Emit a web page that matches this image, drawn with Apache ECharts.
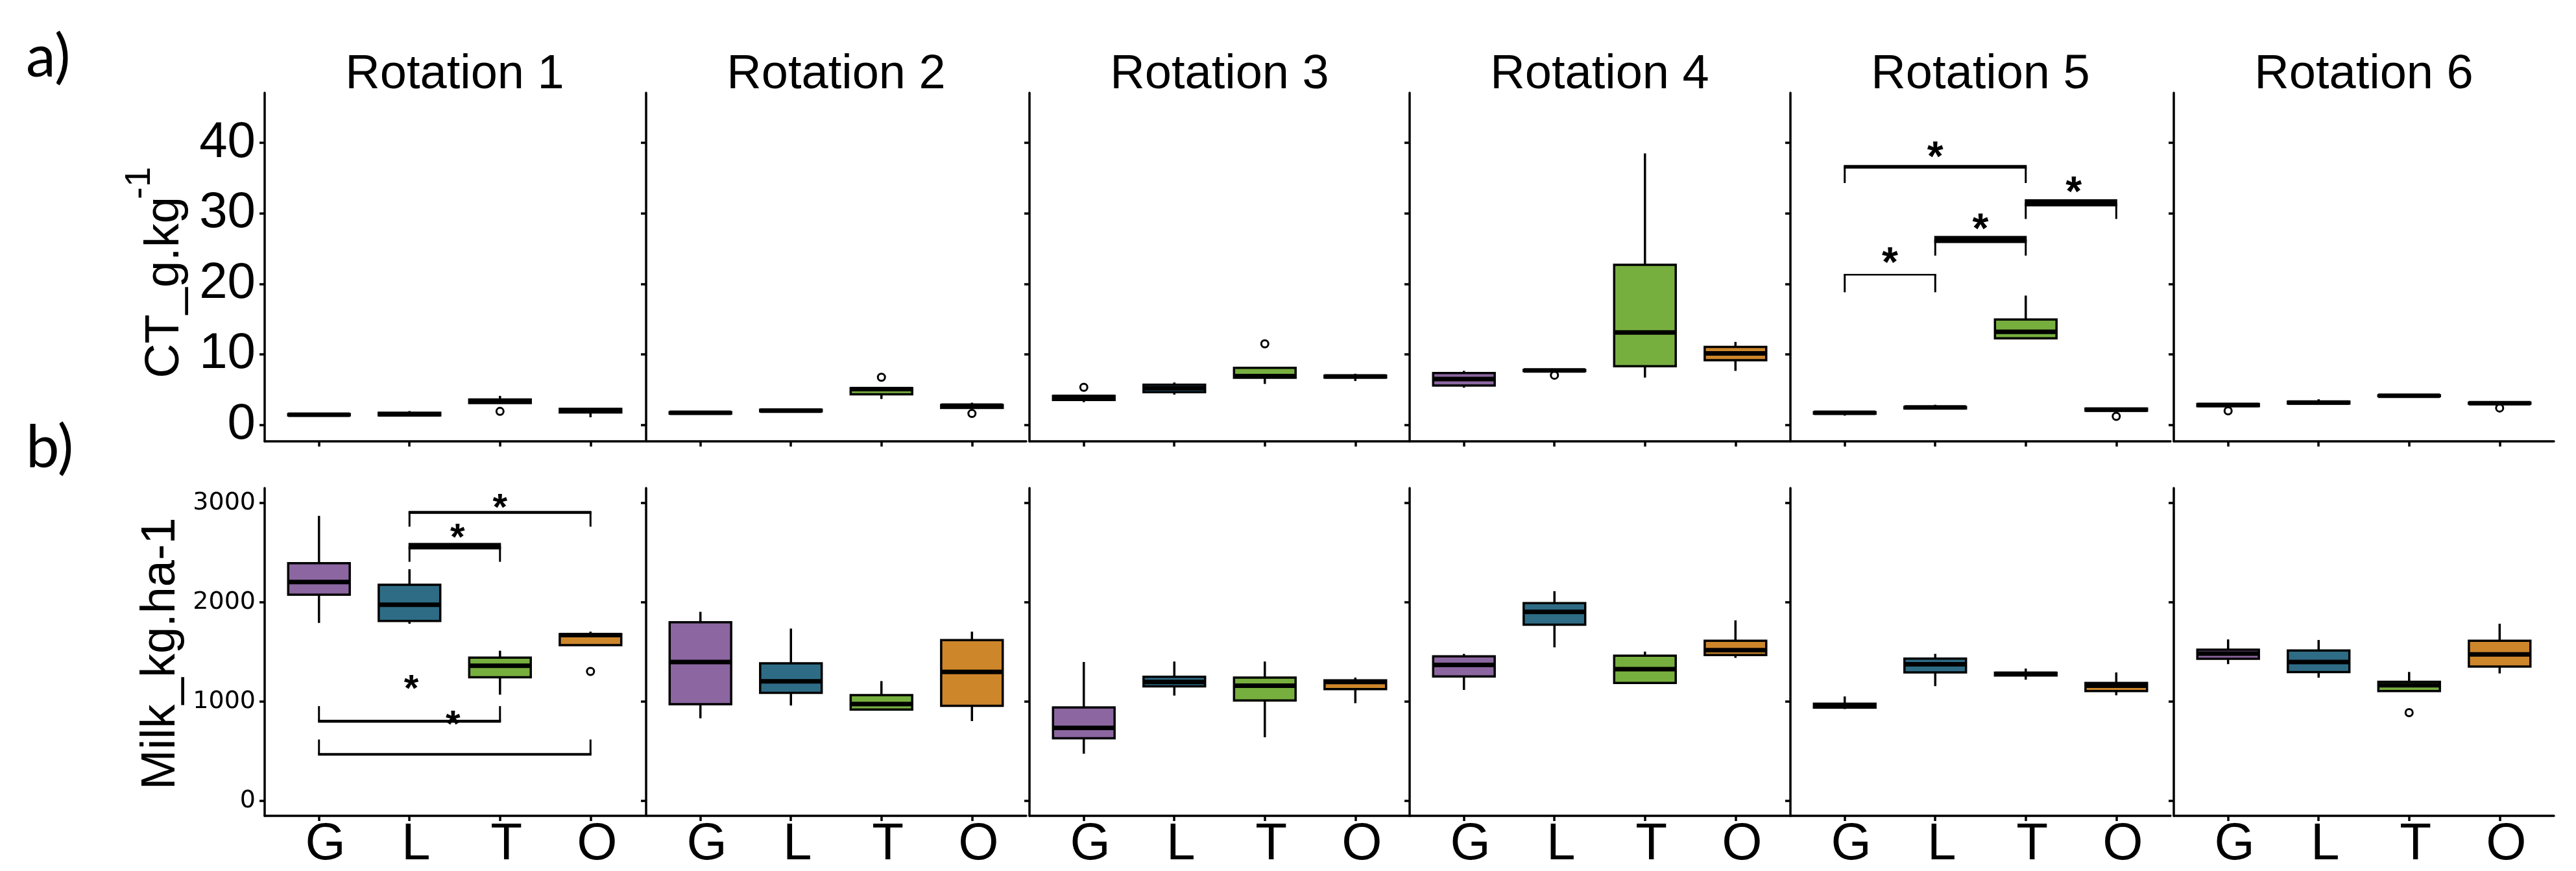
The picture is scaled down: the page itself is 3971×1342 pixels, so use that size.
<!DOCTYPE html>
<html>
<head>
<meta charset="utf-8">
<script src="https://cdn.jsdelivr.net/npm/echarts@6/dist/echarts.min.js"></script>
<style>html,body{margin:0;padding:0;background:#fff}#c{width:3971px;height:1342px}</style>
</head>
<body>
<div id="c"></div>
<script>
// ---------------- DATA ----------------
const rotations = ['Rotation 1', 'Rotation 2', 'Rotation 3', 'Rotation 4', 'Rotation 5', 'Rotation 6'];
const treatments = ['G', 'L', 'T', 'O'];
const ctTicks = [0, 10, 20, 30, 40];
const milkTicks = [0, 1000, 2000, 3000];

// CT (g.kg-1): [min, Q1, median, Q3, max] for G, L, T, O
const ctRotation1 = [[1.30, 1.33, 1.42, 1.51, 1.55], [1.30, 1.34, 1.50, 1.71, 1.95], [3.00, 3.08, 3.40, 3.60, 4.10], [1.07, 1.75, 2.05, 2.25, 2.30]];
const ctRotation2 = [[1.55, 1.58, 1.70, 1.79, 1.80], [1.90, 1.92, 2.00, 2.13, 2.15], [3.66, 4.33, 5.06, 5.20, 5.20], [2.40, 2.40, 2.72, 2.81, 3.13]];
const ctRotation3 = [[3.21, 3.52, 3.95, 4.10, 4.10], [4.28, 4.62, 5.18, 5.69, 6.00], [5.80, 6.68, 6.90, 8.08, 8.08], [6.21, 6.69, 6.85, 6.98, 7.24]];
const ctRotation4 = [[5.27, 5.57, 6.50, 7.34, 7.65], [7.60, 7.62, 7.70, 7.79, 7.85], [6.70, 8.30, 13.10, 22.70, 38.50], [7.65, 9.15, 10.12, 11.04, 11.76]];
const ctRotation5 = [[1.30, 1.58, 1.70, 1.79, 1.80], [2.33, 2.33, 2.45, 2.53, 2.84], [12.27, 12.27, 13.20, 14.95, 18.33], [1.99, 1.99, 2.15, 2.29, 2.29]];
const ctRotation6 = [[2.65, 2.65, 2.80, 2.95, 2.95], [3.02, 3.02, 3.15, 3.28, 3.62], [4.05, 4.05, 4.12, 4.18, 4.18], [2.98, 2.98, 3.07, 3.15, 3.15]];

// Milk (kg.ha-1): [min, Q1, median, Q3, max] for G, L, T, O
const milkRotation1 = [[1793, 2078, 2205, 2395, 2872], [1785, 1812, 1976, 2177, 2334], [1070, 1246, 1362, 1443, 1513], [1569, 1569, 1670, 1680, 1705]];
const milkRotation2 = [[832, 974, 1399, 1800, 1905], [961, 1088, 1204, 1386, 1736], [920, 920, 975, 1065, 1207], [804, 957, 1299, 1620, 1705]];
const milkRotation3 = [[475, 631, 735, 942, 1399], [1061, 1154, 1198, 1251, 1404], [641, 1011, 1161, 1242, 1404], [984, 1126, 1198, 1214, 1242]];
const milkRotation4 = [[1118, 1254, 1370, 1457, 1481], [1547, 1775, 1905, 1992, 2113], [1189, 1189, 1327, 1463, 1504], [1441, 1469, 1518, 1614, 1819]];
const milkRotation5 = [[925, 940, 964, 979, 1052], [1156, 1294, 1376, 1434, 1481], [1221, 1263, 1279, 1291, 1333], [1064, 1106, 1161, 1188, 1294]];
const milkRotation6 = [[1378, 1432, 1484, 1523, 1627], [1241, 1297, 1399, 1515, 1621], [1106, 1106, 1165, 1200, 1299], [1284, 1354, 1476, 1614, 1785]];

// outliers: [rotationIndex, treatmentIndex, value]
const ctOutliers = [[0, 2, 1.9], [1, 2, 6.74], [1, 3, 1.6], [2, 0, 5.31], [2, 2, 11.48], [3, 1, 7.03], [4, 3, 1.2], [5, 0, 1.98], [5, 3, 2.38]];
const milkOutliers = [[0, 3, 1304], [5, 2, 889]];

// significance brackets: [rotationIndex, fromTreatment, toTreatment, barValue, legEndValue]
const ctBrackets = [[4, 0, 2, 36.6, 34.3], [4, 0, 1, 21.3, 18.8], [4, 1, 2, 26.3, 24.0], [4, 2, 3, 31.5, 29.2]];
const milkBrackets = [[0, 1, 3, 2906, 2763], [0, 1, 2, 2567, 2409], [0, 0, 2, 803, 955], [0, 0, 3, 469, 618]];
// significance stars: [rotationIndex, treatmentPosition, value]
const ctStars = [[4, 1.0, 39.0], [4, 0.5, 24.0], [4, 1.5, 28.8], [4, 2.53, 34.1]];
const milkStars = [[0, 2.0, 3025], [0, 1.53, 2723], [0, 1.48, 840], [0, 1.02, 1198]];

const ctBoxes = [ctRotation1, ctRotation2, ctRotation3, ctRotation4, ctRotation5, ctRotation6];
const milkBoxes = [milkRotation1, milkRotation2, milkRotation3, milkRotation4, milkRotation5, milkRotation6];

// ---------------- STYLE / LAYOUT ----------------
const FILL = ['#8C66A0', '#2E6C86', '#77AF3F', '#CE862B'];
const ctBracketWidths = [5.5, 2.5, 11, 11];
const milkBracketWidths = [4.5, 10, 4.5, 4];
const SANS = '"Liberation Sans", Arial, sans-serif';
const PANEL_LEFT = [408, 996, 1587, 2173, 2760, 3351];
const PANEL_W = 586;
const ROWS = [
  { top: 143, height: 537, min: -2.35, max: 47.1, ticks: ctTicks, boxes: ctBoxes, outliers: ctOutliers, brackets: ctBrackets, widths: ctBracketWidths, stars: ctStars, labelFont: { fontSize: 78, fontFamily: SANS }, starSize: 64 },
  { top: 752, height: 510, min: -151, max: 3152, ticks: milkTicks, boxes: milkBoxes, outliers: milkOutliers, brackets: milkBrackets, widths: milkBracketWidths, stars: milkStars, labelFont: { fontSize: 38, fontFamily: '"DejaVu Sans", sans-serif' }, starSize: 58 }
];
const BOX_W = 0.68;
const LINE = '#000';

function renderBox(params, api) {
  const x = api.value(0);
  const lo = api.coord([x, api.value(1)]);
  const q1 = api.coord([x, api.value(2)]);
  const md = api.coord([x, api.value(3)]);
  const q3 = api.coord([x, api.value(4)]);
  const hi = api.coord([x, api.value(5)]);
  const half = api.size([BOX_W, 0])[0] / 2;
  const fill = FILL[api.value(6)];
  return {
    type: 'group',
    children: [
      { type: 'line', shape: { x1: lo[0], y1: lo[1], x2: q1[0], y2: q1[1] }, style: { stroke: LINE, lineWidth: 3.5 } },
      { type: 'line', shape: { x1: q3[0], y1: q3[1], x2: hi[0], y2: hi[1] }, style: { stroke: LINE, lineWidth: 3.5 } },
      { type: 'rect', shape: { x: q1[0] - half, y: q3[1], width: 2 * half, height: Math.max(q1[1] - q3[1], 0.5) }, style: { fill: fill, stroke: LINE, lineWidth: 3.5 } },
      { type: 'line', shape: { x1: md[0] - half, y1: md[1], x2: md[0] + half, y2: md[1] }, style: { stroke: LINE, lineWidth: 7 } }
    ]
  };
}

function makeBracketRenderer(widths) {
  return function (params, api) {
    const bar = api.value(2), leg = api.value(3);
    const a = api.coord([api.value(0), leg]);
    const b = api.coord([api.value(0), bar]);
    const c = api.coord([api.value(1), bar]);
    const d = api.coord([api.value(1), leg]);
    const w = widths[api.value(4)];
    return {
      type: 'group',
      children: [
        { type: 'line', shape: { x1: a[0], y1: a[1], x2: b[0], y2: b[1] }, style: { stroke: LINE, lineWidth: 3 } },
        { type: 'line', shape: { x1: d[0], y1: d[1], x2: c[0], y2: c[1] }, style: { stroke: LINE, lineWidth: 3 } },
        { type: 'line', shape: { x1: b[0] - 1.5, y1: b[1], x2: c[0] + 1.5, y2: c[1] }, style: { stroke: LINE, lineWidth: w } }
      ]
    };
  };
}

function makeStarRenderer(size) {
  return function (params, api) {
    const p = api.coord([api.value(0), api.value(1)]);
    return {
      type: 'text', x: p[0], y: p[1] + 0.23 * size,
      style: { text: '*', fill: LINE, fontSize: size, fontWeight: 'bold', fontFamily: SANS, align: 'center', verticalAlign: 'middle' }
    };
  };
}

const grid = [], xAxis = [], yAxis = [], series = [];
ROWS.forEach((row, r) => {
  for (let p = 0; p < 6; p++) {
    const g = r * 6 + p;
    grid.push({ left: PANEL_LEFT[p], top: row.top, width: PANEL_W, height: row.height, containLabel: false });
    xAxis.push({
      gridIndex: g, type: 'value', min: 0.4, max: 4.6, splitLine: { show: false },
      axisLine: { show: true, onZero: false, lineStyle: { color: LINE, width: 3.5 } },
      axisTick: { show: true, customValues: [1, 2, 3, 4], length: 8, lineStyle: { color: LINE, width: 3.5 } },
      axisLabel: { show: r === 1, customValues: [1, 2, 3, 4], formatter: v => treatments[Math.round(v) - 1], fontSize: 80, fontFamily: SANS, color: LINE, margin: 5, padding: [0, 0, 0, 20] }
    });
    yAxis.push({
      gridIndex: g, type: 'value', min: row.min, max: row.max, splitLine: { show: false },
      axisLine: { show: true, onZero: false, lineStyle: { color: LINE, width: 3.5 } },
      axisTick: { show: true, customValues: row.ticks, length: 8, lineStyle: { color: LINE, width: 3.5 } },
      axisLabel: Object.assign({ show: p === 0, customValues: row.ticks, formatter: v => String(Math.round(v)), color: LINE, margin: 14 }, row.labelFont)
    });
    series.push({
      type: 'custom', xAxisIndex: g, yAxisIndex: g, z: 2,
      data: row.boxes[p].map((b, i) => [i + 1, b[0], b[1], b[2], b[3], b[4], i]),
      encode: { x: 0, y: [1, 2, 3, 4, 5] },
      renderItem: renderBox
    });
    const outs = row.outliers.filter(o => o[0] === p).map(o => [o[1] + 1, o[2]]);
    if (outs.length) {
      series.push({
        type: 'scatter', xAxisIndex: g, yAxisIndex: g, z: 3, symbol: 'circle', symbolSize: 11,
        itemStyle: { color: '#fff', borderColor: LINE, borderWidth: 3, opacity: 1 },
        data: outs
      });
    }
    const brs = row.brackets.map((bk, i) => [bk[1] + 1, bk[2] + 1, bk[3], bk[4], i, bk[0]]).filter(bk => bk[5] === p);
    if (brs.length) {
      series.push({
        type: 'custom', xAxisIndex: g, yAxisIndex: g, z: 4,
        data: brs, encode: { x: [0, 1], y: [2, 3] },
        renderItem: makeBracketRenderer(row.widths)
      });
    }
    const sts = row.stars.filter(s => s[0] === p).map(s => [s[1] + 1, s[2]]);
    if (sts.length) {
      series.push({
        type: 'custom', xAxisIndex: g, yAxisIndex: g, z: 5,
        data: sts, encode: { x: 0, y: 1 },
        renderItem: makeStarRenderer(row.starSize)
      });
    }
  }
});

const graphic = [
  { type: 'text', x: 40, y: 88, style: { text: 'a)', fill: LINE, font: '92px Lato, sans-serif', align: 'left', verticalAlign: 'middle' } },
  { type: 'text', x: 40, y: 690, style: { text: 'b)', fill: LINE, font: '92px Lato, sans-serif', align: 'left', verticalAlign: 'middle' } },
  { type: 'text', x: 255, y: 443, rotation: Math.PI / 2, style: { text: 'CT_g.kg', fill: LINE, font: '74px ' + SANS, align: 'center', verticalAlign: 'middle' } },
  { type: 'text', x: 216, y: 282, rotation: Math.PI / 2, style: { text: '-1', fill: LINE, font: '56px ' + SANS, align: 'center', verticalAlign: 'middle' } },
  { type: 'text', x: 249, y: 1007, rotation: Math.PI / 2, style: { text: 'Milk_kg.ha-1', fill: LINE, font: '74px ' + SANS, align: 'center', verticalAlign: 'middle' } }
];
rotations.forEach((name, p) => {
  graphic.push({ type: 'text', x: PANEL_LEFT[p] + PANEL_W / 2, y: 116, style: { text: name, fill: LINE, font: '74px ' + SANS, align: 'center', verticalAlign: 'middle' } });
});

const chart = echarts.init(document.getElementById('c'), null, { renderer: 'canvas', width: 3971, height: 1342 });
chart.setOption({
  animation: false,
  backgroundColor: '#fff',
  textStyle: { fontFamily: SANS },
  grid, xAxis, yAxis, series, graphic
});
</script>
</body>
</html>
